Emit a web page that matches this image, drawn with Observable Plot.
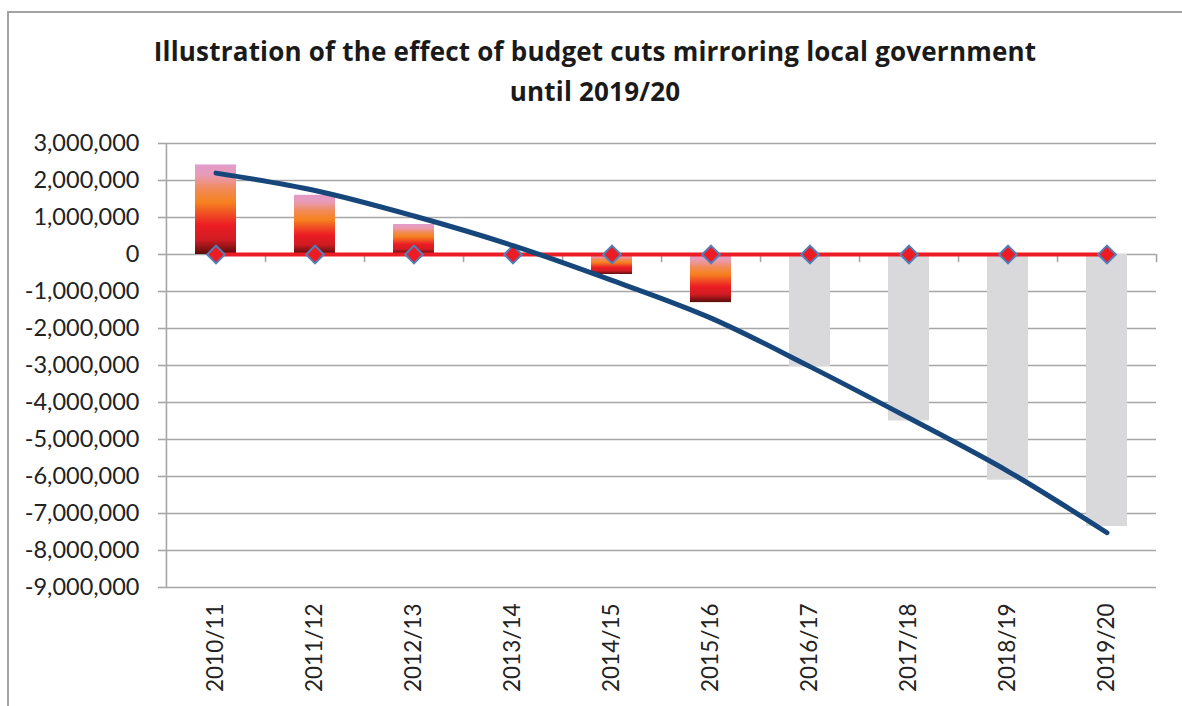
<!DOCTYPE html>
<html><head><meta charset="utf-8">
<script src="https://cdn.jsdelivr.net/npm/d3@7"></script>
<script src="https://cdn.jsdelivr.net/npm/@observablehq/plot@0.6"></script>
<style>
html,body{margin:0;padding:0;background:#fff;overflow:hidden;}
body{width:1182px;height:706px;position:relative;font-family:Lato,"Open Sans",sans-serif;}
#frame{position:absolute;left:7px;top:11px;width:1300px;height:900px;border-top:2px solid #a3a3a6;border-left:2px solid #a3a3a6;pointer-events:none;}
#title{box-sizing:border-box;height:130px;padding-top:31px;padding-left:8px;text-align:center;font-family:"Open Sans",Lato,sans-serif;font-weight:bold;font-size:26px;line-height:40px;color:#1a1a1a;font-variant-ligatures:none;letter-spacing:0.2px;}
svg{display:block;font-variant-ligatures:none;}
</style>
</head><body>
<div id="frame"></div>
<div id="title">Illustration of the effect of budget cuts mirroring local government<br>until 2019/20</div>
<div id="chart"></div>
<script>
const categories = ["2010/11","2011/12","2012/13","2013/14","2014/15","2015/16","2016/17","2017/18","2018/19","2019/20"];
const barValues = [2420000, 1600000, 810000, 0, -540000, -1300000, -3030000, -4500000, -6100000, -7350000];
const barStatus = ["actual","actual","actual","actual","actual","actual","projected","projected","projected","projected"];
const trendValues = [2200000, 1730000, 1040000, 240000, -700000, -1720000, -3030000, -4420000, -5860000, -7520000];
const zeroValues = [0, 0, 0, 0, 0, 0, 0, 0, 0, 0];
const yTicks = [3000000, 2000000, 1000000, 0, -1000000, -2000000, -3000000, -4000000, -5000000, -6000000, -7000000, -8000000, -9000000];

const data = categories.map((c, i) => ({year: c, bar: barValues[i], status: barStatus[i], trend: trendValues[i], zero: zeroValues[i]}));

const W = 1182, mL = 165, mR = 26;
const step = (W - mL - mR) / categories.length;
const grid = "#a6a6a6";
const fmt = d => d3.format(",")(d).replace("\u2212", "-");

const chart = Plot.plot({
  width: W, height: 576,
  marginTop: 13, marginBottom: 119, marginLeft: mL, marginRight: mR,
  style: {fontFamily: "Lato, 'Open Sans', sans-serif", fontSize: "22px", color: "#222", background: "transparent", overflow: "visible"},
  x: {domain: categories, paddingInner: 0.59, paddingOuter: 0.295, label: null},
  y: {domain: [-9000000, 3000000], label: null},
  marks: [
    Plot.ruleY(yTicks, {stroke: grid, strokeWidth: 1.6}),
    Plot.ruleX([categories[0]], {x: d => d, dx: -step / 2, stroke: grid, strokeWidth: 1.6}),
    Plot.ruleX(categories, {x: d => d, dx: step / 2, y1: 0, y2: -220000, stroke: grid, strokeWidth: 1.6}),
    Plot.barY(data, {filter: d => d.status === "actual", x: "year", y: "bar", fill: "url(#cutGrad)"}),
    Plot.barY(data, {filter: d => d.status === "projected", x: "year", y: "bar", fill: "#d9d9dc"}),
    Plot.line(data, {x: "year", y: "zero", stroke: "#ed1c24", strokeWidth: 4}),
    Plot.dot(data, {x: "year", y: "zero", symbol: "diamond2", r: 8, fill: "#ed1c24", stroke: "#4f81bd", strokeWidth: 2}),
    Plot.line(data, {x: "year", y: "trend", stroke: "#17477a", strokeWidth: 5, curve: "catmull-rom", strokeLinecap: "round"}),
    Plot.axisY({ticks: yTicks, tickFormat: fmt, tickSize: 7, tickPadding: 19, stroke: grid, strokeWidth: 1.6, fill: "#222", fontSize: 23.5}),
    Plot.axisX({tickRotate: -90, tickSize: 0, tickPadding: 16, label: null, fill: "#222", fontSize: 22.5})
  ]
});

const defs = d3.select(chart).insert("defs", ":first-child");
const g = defs.append("linearGradient").attr("id", "cutGrad").attr("x1", 0).attr("y1", 0).attr("x2", 0).attr("y2", 1);
[[0, "#e29bcc"], [0.12, "#e99bb5"], [0.28, "#f28a55"], [0.42, "#f6821f"], [0.56, "#f04a24"], [0.68, "#ec1c24"], [0.84, "#d01c22"], [1, "#5a0c0c"]]
  .forEach(([o, c]) => g.append("stop").attr("offset", o).attr("stop-color", c));

document.getElementById("chart").appendChild(chart);
</script>
</body></html>
